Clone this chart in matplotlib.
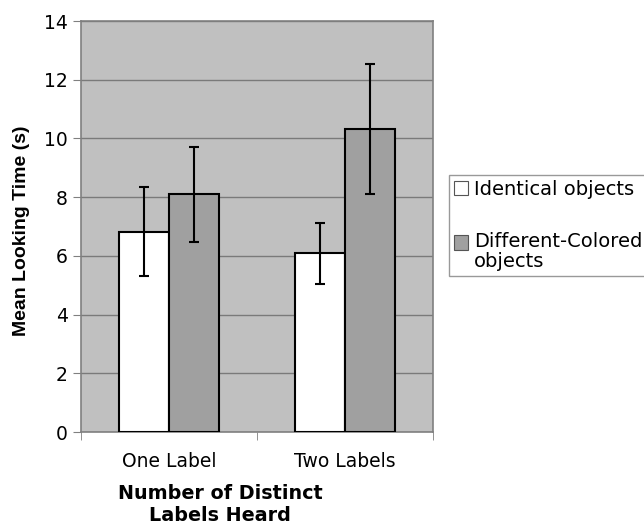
import matplotlib
matplotlib.use("Agg")
import matplotlib.pyplot as plt
import numpy as np
from matplotlib.patches import Patch

categories = ["One Label", "Two Labels"]
identical = [6.82, 6.09]
identical_err_hi = [8.34, 7.12]
identical_err_lo = [5.31, 5.05]
different = [8.10, 10.31]
different_err_hi = [9.72, 12.54]
different_err_lo = [6.47, 8.10]
series_names = ["Identical objects", "Different-Colored\nobjects"]

fig = plt.figure(figsize=(6.44, 5.25), dpi=100)
ax = fig.add_axes([0.1258, 0.177, 0.5466, 0.783])
ax.set_facecolor("#c0c0c0")

x = np.arange(len(categories))
w = 0.285

yerr_a = [np.array(identical) - np.array(identical_err_lo),
          np.array(identical_err_hi) - np.array(identical)]
yerr_b = [np.array(different) - np.array(different_err_lo),
          np.array(different_err_hi) - np.array(different)]

ax.bar(x - w / 2, identical, w, color="white", edgecolor="black", linewidth=1.5, zorder=3)
ax.bar(x + w / 2, different, w, color="#a0a0a0", edgecolor="black", linewidth=1.5, zorder=3)
ax.errorbar(x - w / 2, identical, yerr=yerr_a, fmt="none", ecolor="black",
            elinewidth=1.5, capsize=3.5, capthick=1.5, zorder=4)
ax.errorbar(x + w / 2, different, yerr=yerr_b, fmt="none", ecolor="black",
            elinewidth=1.5, capsize=3.5, capthick=1.5, zorder=4)

ax.set_xlim(-0.5, 1.5)
ax.set_ylim(0, 14)
ax.set_yticks(range(0, 15, 2))
ax.yaxis.grid(True, color="#7a7a7a", linewidth=1, zorder=1)
ax.set_axisbelow(True)

ax.set_xticks(x)
ax.set_xticklabels(categories, fontsize=13.5, family="DejaVu Sans")
ax.set_xticks([-0.5, 0.5, 1.5], minor=True)
ax.tick_params(axis="x", which="major", length=0, pad=14)
ax.tick_params(axis="x", which="minor", length=6, color="#808080")
ax.tick_params(axis="y", length=6, color="#808080", labelsize=13.5)
for lab in ax.get_yticklabels():
    lab.set_family("DejaVu Sans")

for s in ax.spines.values():
    s.set_color("#808080")
    s.set_linewidth(1.2)

ax.set_ylabel("Mean Looking Time (s)", fontsize=14, fontweight="bold",
              family="Liberation Sans")
ax.yaxis.set_label_coords(-0.146, 0.49)
ax.set_xlabel("Number of Distinct\nLabels Heard", fontsize=13.8, fontweight="bold",
              family="DejaVu Sans", va="top")
ax.xaxis.set_label_coords(0.395, -0.127)

handles = [Patch(facecolor="white", edgecolor="#555555", linewidth=0.8),
           Patch(facecolor="#a0a0a0", edgecolor="#555555", linewidth=0.8)]
leg = fig.legend(handles, series_names, loc="upper left",
                 bbox_to_anchor=(449 / 644, 1 - 175 / 525), frameon=True, fancybox=False,
                 edgecolor="#808080", prop={"family": "DejaVu Sans", "size": 14},
                 handlelength=0.75, handleheight=0.75, handletextpad=0.3,
                 labelspacing=1.7, borderpad=0.25, borderaxespad=0)
leg.get_frame().set_linewidth(1)
for t in leg.get_texts():
    t.set_linespacing(1.1)

# line the second swatch up with the first line of its two-line label
h2 = leg.legend_handles[1]
h2.set_y(h2.get_y() + 7.2)

fig.savefig("out.png", dpi=100)
